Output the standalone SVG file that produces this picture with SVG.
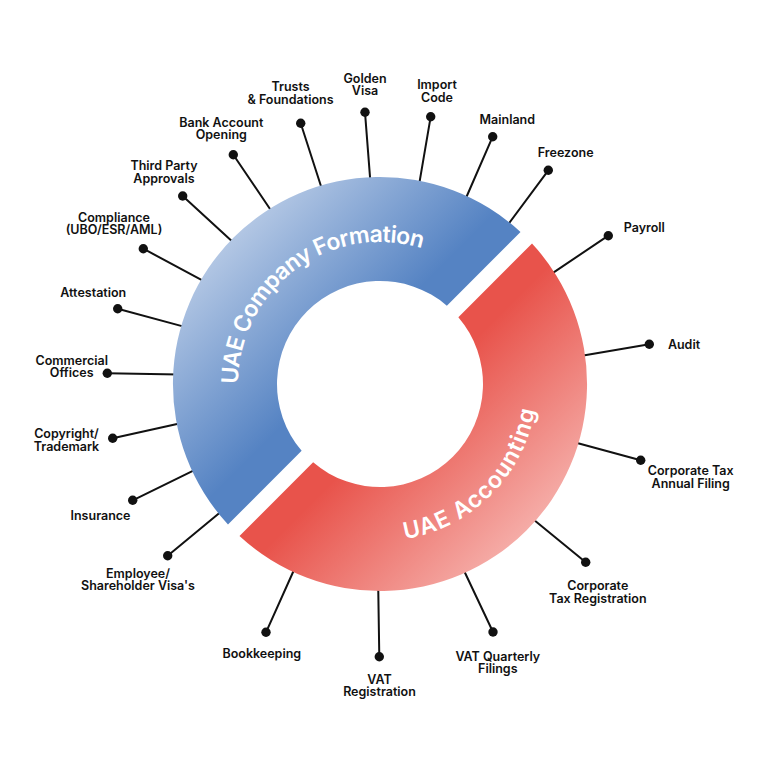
<svg xmlns="http://www.w3.org/2000/svg" width="768" height="768" viewBox="0 0 768 768">
<style>
.lbl{font-family:Inter,"Liberation Sans",sans-serif;font-weight:600;font-size:12.5px;fill:#111;text-anchor:middle}
.conn line{stroke:#111;stroke-width:2;stroke-linecap:round}
.conn circle{fill:#111}
.ring{font-family:Inter,"Liberation Sans",sans-serif;font-weight:600;font-size:23px;fill:#fff}
</style>
<defs>
<linearGradient id="gb" gradientUnits="userSpaceOnUse" x1="233" y1="237" x2="352" y2="356">
<stop offset="0" stop-color="#b3c7e4"/>
<stop offset="1" stop-color="#5583c3"/>
</linearGradient>
<linearGradient id="gr" gradientUnits="userSpaceOnUse" x1="405" y1="409" x2="527" y2="531">
<stop offset="0" stop-color="#e8534b"/>
<stop offset="1" stop-color="#f5aca7"/>
</linearGradient>
<path id="pb" d="M 238 384 A 142 142 0 1 1 522 384 A 142 142 0 1 1 238 384"/>
<path id="pr" d="M 405.1 539 A 157 157 0 1 0 354.9 229 A 157 157 0 1 0 405.1 539"/>
</defs>
<rect width="768" height="768" fill="#fff"/>
<g id="connectors" class="conn">
<line x1="300.7" y1="123.3" x2="322.8" y2="191.7"/><circle cx="300.7" cy="123.3" r="4.7"/>
<line x1="365" y1="112.3" x2="370.5" y2="183.3"/><circle cx="365" cy="112.3" r="4.7"/>
<line x1="430.7" y1="116.7" x2="419" y2="185.2"/><circle cx="430.7" cy="116.7" r="4.7"/>
<line x1="492.7" y1="136.7" x2="464.9" y2="200.5"/><circle cx="492.7" cy="136.7" r="4.7"/>
<line x1="548.3" y1="170.3" x2="507.1" y2="225.8"/><circle cx="548.3" cy="170.3" r="4.7"/>
<line x1="608.3" y1="235.7" x2="550.7" y2="274.3"/><circle cx="608.3" cy="235.7" r="4.7"/>
<line x1="649.3" y1="344.3" x2="580.4" y2="356"/><circle cx="649.3" cy="344.3" r="4.7"/>
<line x1="640.7" y1="460.3" x2="572.5" y2="441.7"/><circle cx="640.7" cy="460.3" r="4.7"/>
<line x1="585.7" y1="562.3" x2="530.4" y2="516.9"/><circle cx="585.7" cy="562.3" r="4.7"/>
<line x1="493" y1="632" x2="462.4" y2="567.3"/><circle cx="493" cy="632" r="4.7"/>
<line x1="379.3" y1="656.7" x2="378.2" y2="585.7"/><circle cx="379.3" cy="656.7" r="4.7"/>
<line x1="266" y1="632.3" x2="294.2" y2="569.5"/><circle cx="266" cy="632.3" r="4.7"/>
<line x1="167.7" y1="555.7" x2="220.6" y2="511.9"/><circle cx="167.7" cy="555.7" r="4.7"/>
<line x1="132.7" y1="500.3" x2="195.4" y2="469.7"/><circle cx="132.7" cy="500.3" r="4.7"/>
<line x1="112.7" y1="438.3" x2="181.6" y2="423"/><circle cx="112.7" cy="438.3" r="4.7"/>
<line x1="107.3" y1="373.3" x2="178.7" y2="374.4"/><circle cx="107.3" cy="373.3" r="4.7"/>
<line x1="117.7" y1="308.7" x2="187.5" y2="327.6"/><circle cx="117.7" cy="308.7" r="4.7"/>
<line x1="143.3" y1="248.7" x2="207" y2="282.8"/><circle cx="143.3" cy="248.7" r="4.7"/>
<line x1="182.7" y1="196" x2="236.1" y2="245.1"/><circle cx="182.7" cy="196" r="4.7"/>
<line x1="233.3" y1="154.7" x2="273.4" y2="214"/><circle cx="233.3" cy="154.7" r="4.7"/>
</g>
<g id="company-formation">
<path d="M 520.51 231.99 A 207 207 0 0 0 227.99 524.51 L 301.65 450.86 A 103 103 0 0 1 446.86 305.65 Z" fill="url(#gb)"/>
<text class="ring" letter-spacing="-0.6"><textPath href="#pb">UAE Company Formation</textPath></text>
</g>
<g id="accounting">
<path d="M 532.01 243.49 A 207 207 0 0 1 239.49 536.01 L 313.14 462.35 A 103 103 0 0 0 458.35 317.14 Z" fill="url(#gr)"/>
<text class="ring" letter-spacing="1.1"><textPath href="#pr">UAE Accounting</textPath></text>
</g>
<g id="n-trusts"><text class="lbl"><tspan x="290.5" y="91">Trusts</tspan><tspan x="290.5" dy="12.5">&amp; Foundations</tspan></text></g>
<g id="n-golden"><text class="lbl"><tspan x="365" y="82.5">Golden</tspan><tspan x="365" dy="12.5">Visa</tspan></text></g>
<g id="n-import"><text class="lbl"><tspan x="437" y="89.3">Import</tspan><tspan x="437" dy="12.5">Code</tspan></text></g>
<g id="n-mainland"><text class="lbl" x="507.3" y="124">Mainland</text></g>
<g id="n-freezone"><text class="lbl" x="565.7" y="156.5">Freezone</text></g>
<g id="n-payroll"><text class="lbl" x="644.3" y="232.3">Payroll</text></g>
<g id="n-audit"><text class="lbl" x="684" y="349.3">Audit</text></g>
<g id="n-ct-annual"><text class="lbl"><tspan x="690.7" y="475">Corporate Tax</tspan><tspan x="690.7" dy="12.5">Annual Filing</tspan></text></g>
<g id="n-ct-reg"><text class="lbl"><tspan x="597.8" y="590">Corporate</tspan><tspan x="597.8" dy="12.5">Tax Registration</tspan></text></g>
<g id="n-vat-q"><text class="lbl"><tspan x="497.8" y="660.7">VAT Quarterly</tspan><tspan x="497.8" dy="12.5">Filings</tspan></text></g>
<g id="n-vat-reg"><text class="lbl"><tspan x="379.5" y="683.5">VAT</tspan><tspan x="379.5" dy="12.5">Registration</tspan></text></g>
<g id="n-bookkeeping"><text class="lbl" x="261.8" y="658.3">Bookkeeping</text></g>
<g id="n-employee"><text class="lbl"><tspan x="138" y="577.5">Employee/</tspan><tspan x="138" dy="12.5">Shareholder Visa's</tspan></text></g>
<g id="n-insurance"><text class="lbl" x="100.5" y="520">Insurance</text></g>
<g id="n-copyright"><text class="lbl"><tspan x="66.5" y="438.3">Copyright/</tspan><tspan x="66.5" dy="12.5">Trademark</tspan></text></g>
<g id="n-commercial"><text class="lbl"><tspan x="71.7" y="364.5">Commercial</tspan><tspan x="71.7" dy="12.5">Offices</tspan></text></g>
<g id="n-attestation"><text class="lbl" x="93.3" y="296.7">Attestation</text></g>
<g id="n-compliance"><text class="lbl"><tspan x="114" y="221.7">Compliance</tspan><tspan x="114" dy="12.5">(UBO/ESR/AML)</tspan></text></g>
<g id="n-third-party"><text class="lbl"><tspan x="164" y="170">Third Party</tspan><tspan x="164" dy="12.5">Approvals</tspan></text></g>
<g id="n-bank"><text class="lbl"><tspan x="221.3" y="126.7">Bank Account</tspan><tspan x="221.3" dy="12.5">Opening</tspan></text></g>
</svg>
